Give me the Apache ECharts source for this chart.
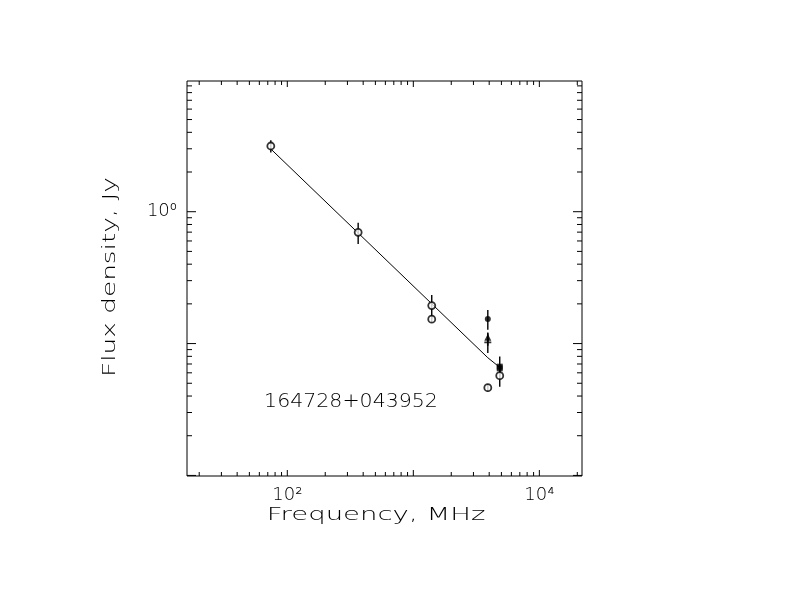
<!DOCTYPE html>
<html>
<head>
<meta charset="utf-8">
<script src="https://cdn.jsdelivr.net/npm/echarts@6.0.0/dist/echarts.min.js"></script>
<style>
  html, body { margin: 0; padding: 0; background: #fff; }
  #chart { width: 792px; height: 612px; }
</style>
</head>
<body>
<div id="chart"></div>
<script>
// measured points: frequency (MHz), flux density (Jy), error (Jy)
const openFreq = [74, 365, 1400, 1400, 3900, 4850];
const openFlux = [3.15, 0.698, 0.194, 0.153, 0.0463, 0.0571];
const openErr = [0.34, 0.128, 0.040, 0.008, 0.003, 0.010];

const dotFreq = [3900];
const dotFlux = [0.1535];
const dotErr = [0.026];

const triFreq = [3900];
const triFlux = [0.1115];
const triErr = [0.010];

const crossFreq = [3900];
const crossFlux = [0.1022];
const crossErr = [0.0175];

const squareFreq = [4850, 4850];
const squareFlux = [0.0668, 0.0649];
const squareErr = [0.013, 0.005];

// fitted spectrum
const fitFreq = [74, 3900, 4850];
const fitFlux = [2.99, 0.0781, 0.066];

// axes
const xMin = 16, xMax = 21800;
const yMin = 0.0099, yMax = 9.8;
const xTickDecades = [10, 100, 1000, 10000];
const yTickDecades = [0.01, 0.1, 1];
const tickSteps = [1, 2, 3, 4, 5, 6, 7, 8, 9];
const xLabelValues = [100, 10000];
const yLabelValues = [1];
const sourceName = '164728+043952';

const FONT = '"DejaVu Sans", sans-serif';
const WEIGHT = 200;
const SUP = { '-': '⁻', '0': '⁰', '1': '¹', '2': '²', '3': '³', '4': '⁴', '5': '⁵', '6': '⁶', '7': '⁷', '8': '⁸', '9': '⁹' };

function powLabel(v, wanted) {
  const e = Math.round(Math.log10(v));
  const p = Math.pow(10, e);
  if (Math.abs(v - p) / p > 1e-6) return '';
  if (!wanted.some(w => Math.abs(w - p) / p < 1e-6)) return '';
  return '10' + String(e).split('').map(c => SUP[c]).join('');
}

function tickList(decades, lo, hi) {
  const out = [];
  decades.forEach(d => tickSteps.forEach(s => {
    const v = d * s;
    if (v >= lo && v <= hi) out.push([v, s === 1 ? 1 : 0]);
  }));
  return out;
}

const lineStyle = { stroke: '#000', lineWidth: 1 };

function errorBars(freq, flux, err) {
  return {
    type: 'custom',
    silent: true,
    z: 2,
    data: freq.map((f, i) => [f, flux[i] - err[i], flux[i] + err[i]]),
    encode: { x: 0, y: [1, 2] },
    renderItem: (params, api) => {
      const lo = api.coord([api.value(0), api.value(1)]);
      const hi = api.coord([api.value(0), api.value(2)]);
      return {
        type: 'line',
        shape: { x1: lo[0], y1: lo[1], x2: hi[0], y2: hi[1] },
        style: { stroke: '#000', lineWidth: 1.4 }
      };
    }
  };
}

function points(freq, flux, symbol, size, filled) {
  return {
    type: 'scatter',
    z: 3,
    symbol: symbol,
    symbolSize: size,
    data: freq.map((f, i) => [f, flux[i]]),
    itemStyle: filled
      ? { color: '#000' }
      : { color: '#fff', borderColor: '#000', borderWidth: 1.8 }
  };
}

function titleText(text, x, y, size, scaleX, rotation) {
  return {
    type: 'text', x: x, y: y, scaleX: scaleX, rotation: rotation || 0,
    style: {
      text: text, fontSize: size, fontFamily: FONT, fontWeight: WEIGHT, fill: '#000',
      textAlign: 'center', textVerticalAlign: 'middle', align: 'center', verticalAlign: 'middle'
    }
  };
}

const chart = echarts.init(document.getElementById('chart'));

chart.setOption({
  backgroundColor: '#fff',
  animation: false,
  grid: {
    left: 187, right: 210, top: 81, bottom: 136,
    show: true, borderColor: '#000', borderWidth: 1,
    containLabel: false, outerBoundsMode: 'none'
  },
  xAxis: {
    type: 'log', logBase: 10, min: xMin, max: xMax,
    axisLine: { show: false }, axisTick: { show: false }, splitLine: { show: false },
    axisLabel: {
      interval: 0, margin: 10, color: '#000', fontSize: 18, fontFamily: FONT, fontWeight: WEIGHT,
      showMinLabel: true, showMaxLabel: true,
      formatter: v => powLabel(v, xLabelValues)
    }
  },
  yAxis: {
    type: 'log', logBase: 10, min: yMin, max: yMax,
    axisLine: { show: false }, axisTick: { show: false }, splitLine: { show: false },
    axisLabel: {
      interval: 0, margin: 10, color: '#000', fontSize: 18, fontFamily: FONT, fontWeight: WEIGHT,
      formatter: v => powLabel(v, yLabelValues)
    }
  },
  graphic: [
    titleText('Frequency, MHz', 376, 516, 17, 1.62),
    titleText('Flux density, Jy', 111, 277, 17, 1.55, Math.PI / 2),
    titleText(sourceName, 351, 402, 19, 1.08)
  ],
  series: [
    // inward ticks on bottom and top
    {
      type: 'custom', silent: true, clip: false, z: 4,
      data: tickList(xTickDecades, xMin, xMax).map(t => [t[0], yMin, t[1]]),
      encode: { x: 0, y: 1 },
      renderItem: (params, api) => {
        const v = api.value(0);
        const b = api.coord([v, yMin]);
        const t = api.coord([v, yMax]);
        const len = api.value(2) ? 6 : 4;
        return {
          type: 'group',
          children: [
            { type: 'line', shape: { x1: b[0], y1: b[1], x2: b[0], y2: b[1] - len }, style: lineStyle },
            { type: 'line', shape: { x1: t[0], y1: t[1], x2: t[0], y2: t[1] + len }, style: lineStyle }
          ]
        };
      }
    },
    // inward ticks on left and right
    {
      type: 'custom', silent: true, clip: false, z: 4,
      data: tickList(yTickDecades, yMin, yMax).map(t => [xMin, t[0], t[1]]),
      encode: { x: 0, y: 1 },
      renderItem: (params, api) => {
        const v = api.value(1);
        const l = api.coord([xMin, v]);
        const r = api.coord([xMax, v]);
        const len = api.value(2) ? 9 : 5;
        return {
          type: 'group',
          children: [
            { type: 'line', shape: { x1: l[0], y1: l[1], x2: l[0] + len, y2: l[1] }, style: lineStyle },
            { type: 'line', shape: { x1: r[0], y1: r[1], x2: r[0] - len, y2: r[1] }, style: lineStyle }
          ]
        };
      }
    },
    {
      type: 'line', z: 1, symbol: 'none', silent: true,
      data: fitFreq.map((f, i) => [f, fitFlux[i]]),
      lineStyle: { color: '#000', width: 1 }
    },
    errorBars(openFreq, openFlux, openErr),
    errorBars(dotFreq, dotFlux, dotErr),
    errorBars(triFreq, triFlux, triErr),
    errorBars(crossFreq, crossFlux, crossErr),
    errorBars(squareFreq, squareFlux, squareErr),
    points(openFreq, openFlux, 'circle', 7, false),
    points(dotFreq, dotFlux, 'circle', 6, true),
    points(triFreq, triFlux, 'triangle', 7, true),
    points(crossFreq, crossFlux, 'path://M3,0h2v8h-2zM0,3h8v2h-8z', 7, true),
    points(squareFreq, squareFlux, 'rect', 6, true)
  ]
});
</script>
</body>
</html>
